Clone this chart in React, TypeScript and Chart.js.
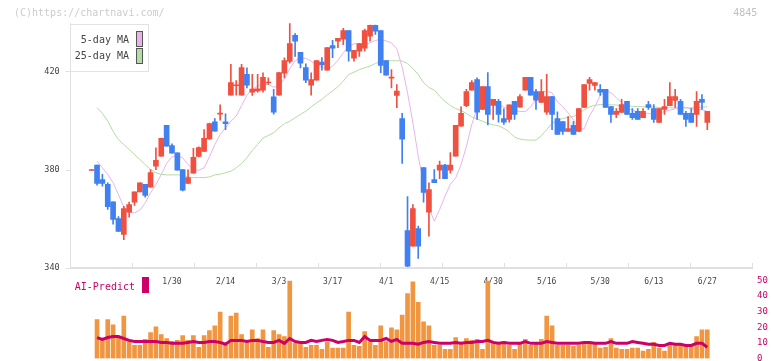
import React, { useEffect, useRef } from "react";
import { Chart, registerables } from "chart.js";
Chart.register(...registerables);

// ---- DATA (index 0..115 = trading days) ----
const opens = [379.8, 382.0, 376.1, 374.2, 367.0, 360.2, 353.7, 362.8, 366.9, 371.1, 374.2, 373.0, 381.6, 385.6, 398.2, 390.0, 387.0, 380.2, 374.5, 378.7, 385.5, 387.6, 392.7, 399.7, 402.8, 399.7, 410.5, 414.4, 410.5, 419.0, 411.8, 412.3, 412.6, 415.5, 409.9, 410.5, 419.5, 424.3, 435.0, 428.0, 421.8, 414.6, 416.7, 424.0, 420.7, 430.8, 432.6, 433.4, 436.9, 425.6, 428.5, 429.7, 434.6, 439.0, 436.9, 424.7, 417.5, 410.4, 401.0, 355.3, 348.9, 356.1, 381.0, 362.8, 376.1, 379.9, 382.0, 379.9, 385.6, 397.9, 406.3, 412.6, 416.9, 404.7, 414.1, 406.4, 408.0, 401.0, 400.6, 408.0, 405.6, 412.6, 417.8, 412.0, 407.6, 403.6, 410.0, 401.0, 399.8, 395.7, 398.2, 395.7, 405.5, 415.3, 414.5, 412.9, 412.9, 405.9, 402.7, 403.5, 408.0, 403.1, 403.9, 401.4, 406.7, 405.1, 399.4, 404.7, 406.3, 408.4, 408.0, 403.1, 403.1, 402.7, 408.8, 399.4];
const highs = [380.2, 382.0, 378.2, 374.8, 367.0, 361.0, 365.2, 366.9, 371.1, 374.8, 374.2, 380.2, 389.1, 393.0, 398.2, 390.7, 387.0, 380.2, 380.1, 388.8, 389.5, 396.5, 399.2, 401.0, 406.6, 402.9, 423.1, 416.5, 423.1, 421.7, 419.0, 419.0, 419.7, 417.6, 412.9, 419.8, 425.8, 439.8, 435.7, 428.0, 423.3, 419.7, 424.7, 425.9, 430.0, 432.9, 433.7, 437.8, 436.9, 428.8, 431.6, 437.5, 439.2, 439.2, 436.9, 424.7, 421.0, 414.9, 403.1, 369.2, 365.9, 357.1, 381.0, 374.8, 380.2, 383.6, 382.3, 387.1, 398.2, 405.8, 412.9, 416.5, 417.6, 414.1, 419.8, 408.8, 408.8, 405.0, 406.6, 408.0, 410.8, 417.8, 417.8, 412.9, 416.9, 419.0, 410.0, 403.7, 399.8, 401.8, 399.8, 405.1, 414.9, 417.8, 415.7, 414.9, 412.9, 405.9, 405.1, 408.8, 408.0, 405.1, 405.1, 405.1, 408.0, 406.7, 405.1, 408.8, 415.7, 412.9, 408.8, 403.9, 405.1, 412.0, 410.8, 403.9];
const lows = [379.8, 373.8, 373.4, 363.9, 357.9, 354.9, 351.6, 360.7, 365.5, 371.1, 368.9, 373.0, 380.1, 385.5, 389.7, 386.9, 379.9, 371.5, 374.5, 378.7, 385.3, 387.6, 392.5, 395.8, 400.3, 396.5, 410.5, 410.5, 410.5, 413.5, 410.4, 411.8, 411.8, 414.9, 402.8, 410.5, 417.6, 423.6, 426.4, 421.7, 415.6, 410.5, 416.7, 420.7, 420.7, 425.8, 429.9, 431.2, 424.4, 424.4, 426.4, 428.5, 432.6, 435.3, 419.7, 418.7, 413.5, 405.4, 382.7, 340.5, 348.9, 343.9, 366.9, 353.0, 374.8, 376.5, 376.5, 378.7, 385.6, 397.9, 405.8, 412.6, 400.6, 404.7, 398.4, 400.6, 399.5, 398.6, 399.5, 400.6, 405.6, 412.6, 410.5, 404.7, 407.6, 402.7, 396.5, 394.5, 394.5, 395.7, 394.5, 395.7, 405.5, 412.6, 412.6, 410.4, 405.5, 399.4, 401.4, 403.5, 402.7, 400.6, 400.6, 401.4, 404.7, 399.4, 399.4, 402.7, 406.3, 405.5, 402.7, 397.8, 399.4, 397.8, 404.7, 396.5];
const closes = [380.1, 374.5, 374.5, 365.0, 359.8, 354.9, 364.3, 365.9, 371.1, 374.8, 369.6, 378.9, 383.9, 392.9, 389.7, 386.9, 379.9, 371.8, 376.9, 385.2, 389.2, 392.9, 398.9, 395.8, 403.0, 398.9, 415.7, 414.6, 421.8, 414.6, 413.0, 413.1, 417.8, 415.7, 403.6, 419.8, 424.7, 431.6, 432.6, 423.6, 416.7, 416.9, 424.7, 422.9, 430.0, 429.7, 433.7, 436.9, 428.5, 428.8, 431.6, 436.9, 439.0, 436.7, 422.7, 418.7, 417.7, 412.2, 392.6, 340.7, 364.3, 348.9, 370.9, 372.0, 374.8, 382.0, 376.5, 382.0, 398.2, 403.1, 412.0, 415.7, 403.6, 414.1, 402.7, 408.8, 402.7, 399.5, 406.6, 402.7, 410.0, 417.8, 410.5, 408.5, 412.0, 410.0, 402.7, 394.5, 395.7, 396.9, 394.5, 405.1, 414.9, 416.9, 415.7, 411.8, 405.5, 402.7, 403.9, 406.7, 402.7, 401.4, 400.6, 403.9, 405.5, 400.6, 405.1, 405.9, 410.0, 410.0, 402.7, 400.6, 399.4, 408.0, 407.6, 403.9];

// moving averages as drawn (index 1..115; index 0 has none)
const ma5 = [null, 383.6, 380.9, 378.2, 374.8, 370.0, 364.8, 362.8, 362.5, 363.6, 366.6, 370.7, 374.1, 378.2, 382.7, 385.4, 385.9, 385.0, 382.2, 380.2, 379.9, 380.9, 385.4, 390.4, 394.5, 397.2, 399.9, 402.0, 406.3, 410.5, 412.9, 414.2, 414.9, 414.9, 413.8, 414.2, 417.2, 421.3, 424.6, 425.5, 425.6, 424.4, 422.8, 422.1, 421.0, 422.4, 424.8, 427.8, 430.5, 431.5, 431.5, 431.2, 431.9, 432.9, 433.3, 432.7, 431.9, 429.5, 422.0, 411.5, 399.3, 385.6, 374.8, 364.6, 359.1, 363.9, 369.3, 374.2, 376.8, 382.2, 389.7, 398.6, 405.0, 408.1, 408.8, 408.5, 407.1, 405.5, 405.0, 404.2, 403.9, 403.9, 405.8, 408.8, 411.8, 412.2, 411.5, 407.8, 405.8, 403.3, 400.5, 396.8, 396.8, 402.2, 405.8, 410.4, 412.6, 411.5, 409.6, 407.4, 405.4, 404.4, 403.6, 403.3, 403.1, 402.8, 403.1, 403.9, 404.4, 405.0, 405.8, 405.5, 405.0, 404.7, 404.6, 403.9];
const ma25 = [null, 405.5, 403.1, 399.9, 395.8, 392.4, 390.4, 388.4, 386.3, 384.3, 382.2, 380.2, 378.9, 378.2, 378.0, 378.0, 378.0, 377.9, 377.2, 376.9, 376.9, 376.9, 377.2, 378.0, 378.3, 378.9, 379.5, 380.9, 382.7, 385.0, 388.0, 390.4, 393.1, 394.1, 395.2, 397.2, 398.9, 399.9, 401.3, 402.7, 404.0, 405.8, 407.4, 408.8, 410.7, 412.3, 414.0, 416.3, 419.0, 419.9, 421.0, 421.7, 422.4, 423.5, 424.3, 424.6, 424.6, 424.6, 424.5, 423.5, 421.4, 419.0, 415.6, 413.7, 412.6, 410.1, 408.0, 406.3, 405.1, 404.2, 403.1, 401.7, 400.8, 399.9, 399.0, 398.5, 398.0, 397.0, 395.6, 393.4, 392.6, 392.3, 392.2, 392.2, 394.0, 396.5, 399.0, 400.3, 401.0, 401.5, 401.9, 403.0, 404.5, 405.8, 406.4, 406.7, 406.7, 406.6, 406.5, 406.3, 406.2, 406.0, 405.9, 405.8, 405.8, 405.7, 405.5, 405.4, 405.4, 405.3, 405.3, 405.3, 405.4, 405.5, 405.7, 405.8];

// volume-like bars and AI-Predict line (index 1..115)
const volumes = [null, 24.9, 11.6, 24.9, 21.6, 13.6, 27.2, 10.9, 8.4, 8.4, 12.2, 16.6, 20.3, 15.3, 12.8, 10.9, 11.6, 14.7, 11.6, 14.7, 7.2, 14.7, 17.8, 20.9, 29.7, 8.4, 27.2, 29.1, 15.3, 10.9, 18.4, 12.8, 18.4, 7.2, 17.8, 15.3, 14.1, 49.7, 9.7, 10.9, 7.2, 8.4, 8.4, 5.9, 10.3, 6.6, 6.6, 6.6, 29.7, 8.4, 7.8, 17.2, 10.3, 8.4, 20.9, 10.9, 19.7, 18.4, 27.8, 41.6, 49.1, 35.9, 23.4, 20.9, 8.4, 8.4, 5.9, 5.9, 13.4, 9.1, 12.8, 11.6, 12.2, 5.9, 49.7, 10.3, 10.3, 10.9, 8.4, 5.9, 9.1, 12.2, 8.4, 9.7, 12.2, 27.2, 20.9, 8.4, 8.4, 8.4, 7.8, 8.4, 9.1, 9.7, 9.7, 6.6, 7.2, 12.8, 6.6, 5.9, 5.9, 6.6, 6.6, 4.7, 5.9, 10.3, 6.6, 4.7, 9.7, 9.1, 9.1, 7.8, 8.4, 14.1, 18.4, 18.4];
const aiPredict = [null, 13.4, 12.2, 13.4, 14.1, 14.1, 12.8, 11.6, 10.9, 10.9, 10.9, 10.9, 10.9, 10.3, 10.3, 9.7, 9.7, 9.7, 10.3, 10.9, 10.3, 10.3, 10.9, 10.9, 10.3, 9.1, 11.6, 11.6, 11.6, 10.9, 11.6, 11.6, 10.9, 10.3, 10.3, 11.6, 9.7, 12.8, 10.9, 10.3, 10.3, 11.6, 10.9, 11.6, 12.2, 11.6, 10.3, 10.9, 11.6, 11.6, 10.3, 14.1, 11.6, 11.6, 11.6, 12.8, 10.9, 12.2, 9.7, 9.7, 9.7, 9.1, 10.3, 10.9, 10.3, 9.7, 9.7, 9.7, 10.3, 9.7, 10.3, 10.3, 10.9, 10.9, 11.6, 10.3, 9.7, 10.3, 9.7, 9.7, 9.7, 10.9, 9.7, 9.7, 9.7, 10.9, 10.3, 9.7, 9.7, 9.7, 9.7, 9.7, 10.3, 10.3, 9.7, 9.7, 9.7, 10.9, 9.7, 9.7, 9.7, 10.9, 10.3, 9.7, 9.1, 9.1, 8.4, 8.4, 9.7, 9.1, 9.1, 8.4, 8.4, 9.7, 9.7, 7.2];

const tickIndices = [15, 25, 35, 45, 55, 65, 75, 85, 95, 105, 115];
const tickLabels = ["1/30", "2/14", "3/3", "3/17", "4/1", "4/15", "4/30", "5/16", "5/30", "6/13", "6/27"];
const priceTicks = [340, 380, 420];
const volumeTicks = [0, 10, 20, 30, 40, 50];
const frameTickCount = 11;

const UP = "#f05040";
const DOWN = "#4080f0";
const MA5_COLOR = "#e8b4e8";
const MA25_COLOR = "#b4dca4";
const VOL_COLOR = "#f09640";
const AI_COLOR = "#cc0066";
const FONT = "'DejaVu Sans Mono', monospace";
const X_MIN = -3.92;
const X_MAX = 123.35;

export default function App() {
  const priceRef = useRef<HTMLCanvasElement>(null);
  const volRef = useRef<HTMLCanvasElement>(null);

  useEffect(() => {
    const idx = closes.map((_, i) => i);
    const colors = idx.map((i) => (closes[i] >= opens[i] ? UP : DOWN));
    const priceChart = new Chart(priceRef.current!, {
      type: "bar",
      data: {
        datasets: [
          {
            type: "line",
            xAxisID: "x",
            yAxisID: "y",
            data: idx.map((i) => ({ x: i, y: ma25[i] })),
            borderColor: MA25_COLOR,
            borderWidth: 1,
            pointRadius: 0,
            order: 4,
          } as any,
          {
            type: "line",
            xAxisID: "x",
            yAxisID: "y",
            data: idx.map((i) => ({ x: i, y: ma5[i] })),
            borderColor: MA5_COLOR,
            borderWidth: 1,
            pointRadius: 0,
            order: 3,
          } as any,
          {
            type: "bar",
            xAxisID: "x",
            yAxisID: "y",
            data: idx.map((i) => ({ x: i, y: [lows[i], highs[i]] })),
            backgroundColor: colors,
            barThickness: 1,
            grouped: false,
            borderWidth: 0,
            order: 2,
          } as any,
          {
            type: "bar",
            xAxisID: "x",
            yAxisID: "y",
            data: idx.map((i) => ({ x: i, y: [opens[i], closes[i]] })),
            backgroundColor: colors,
            barThickness: 5,
            grouped: false,
            borderWidth: 0,
            minBarLength: 1,
            order: 1,
          } as any,
        ],
      },
      options: {
        responsive: false,
        animation: false,
        devicePixelRatio: 1,
        layout: { padding: { top: 23, right: 20, left: 0, bottom: 0 } },
        plugins: { legend: { display: false }, tooltip: { enabled: false } },
        scales: {
          xt: {
            type: "linear",
            position: "bottom",
            weight: 0,
            offset: false,
            min: 0,
            max: frameTickCount,
            afterBuildTicks: (s: any) => {
              s.ticks = Array.from({ length: frameTickCount + 1 }, (_, k) => ({ value: k }));
            },
            afterFit: (s: any) => {
              s.height = 0;
            },
            ticks: { display: false },
            grid: { display: true, offset: false, drawOnChartArea: false, drawTicks: true, tickLength: -5, color: "#e0e0e0", lineWidth: 1 },
            border: { display: true, color: "#e0e0e0", width: 2 },
          },
          x: {
            type: "linear",
            position: "bottom",
            weight: 1,
            offset: false,
            min: X_MIN,
            max: X_MAX,
            afterBuildTicks: (s: any) => {
              s.ticks = tickIndices.map((v) => ({ value: v }));
            },
            afterFit: (s: any) => {
              s.height = 32;
            },
            grid: { display: false, drawTicks: false, offset: false },
            border: { display: false },
            ticks: {
              autoSkip: false,
              maxRotation: 0,
              padding: 9,
              color: "#444",
              font: { family: FONT, size: 8 },
              callback: (v: any) => {
                const k = tickIndices.indexOf(Number(v));
                return k >= 0 ? tickLabels[k] : "";
              },
            },
          },
          y: {
            type: "linear",
            position: "left",
            min: 340,
            max: 440,
            afterBuildTicks: (s: any) => {
              s.ticks = priceTicks.map((v) => ({ value: v }));
            },
            afterFit: (s: any) => {
              s.width = 70.7;
            },
            grid: { drawOnChartArea: false, drawTicks: true, tickLength: 5, color: "#e0e0e0" },
            border: { display: true, color: "#e0e0e0", width: 1 },
            ticks: { padding: 6, color: "#444", font: { family: FONT, size: 8.5 } },
          },
        },
      } as any,
    });

    const volChart = new Chart(volRef.current!, {
      type: "bar",
      data: {
        datasets: [
          {
            type: "line",
            xAxisID: "x",
            yAxisID: "yv",
            data: idx.map((i) => ({ x: i, y: aiPredict[i] })),
            borderColor: AI_COLOR,
            borderWidth: 3,
            pointRadius: 0,
            order: 1,
          } as any,
          {
            type: "bar",
            xAxisID: "x",
            yAxisID: "yv",
            data: idx.map((i) => ({ x: i, y: volumes[i] })),
            backgroundColor: VOL_COLOR,
            barThickness: 4,
            grouped: false,
            borderWidth: 0,
            order: 2,
          } as any,
        ],
      },
      options: {
        responsive: false,
        animation: false,
        devicePixelRatio: 1,
        layout: { padding: { top: 8.5, right: 0, left: 70.7, bottom: 12.5 } },
        plugins: { legend: { display: false }, tooltip: { enabled: false } },
        scales: {
          x: { type: "linear", display: false, offset: false, min: X_MIN, max: X_MAX, grid: { offset: false } },
          yv: {
            type: "linear",
            position: "right",
            min: 0,
            max: 50,
            afterBuildTicks: (s: any) => {
              s.ticks = volumeTicks.map((v) => ({ value: v }));
            },
            afterFit: (s: any) => {
              s.width = 20;
            },
            grid: { display: false, drawTicks: false },
            border: { display: false },
            ticks: { padding: 5, color: AI_COLOR, font: { family: FONT, size: 9 } },
          },
        },
      } as any,
    });

    return () => {
      priceChart.destroy();
      volChart.destroy();
    };
  }, []);

  const txt = (extra: React.CSSProperties): React.CSSProperties => ({
    position: "absolute",
    fontFamily: FONT,
    fontSize: 10,
    lineHeight: "12px",
    whiteSpace: "nowrap",
    ...extra,
  });

  return (
    <div style={{ position: "fixed", left: 0, top: 0, width: 772, height: 361, background: "#fff", overflow: "hidden" }}>
      <canvas ref={priceRef} width={772} height={300} style={{ position: "absolute", left: 0, top: 0 }} />
      <canvas ref={volRef} width={772} height={101} style={{ position: "absolute", left: 0, top: 270 }} />
      <div style={txt({ left: 14, top: 6.5, color: "#cccccc" })}>(C)https://chartnavi.com/</div>
      <div style={txt({ left: 700, width: 57.3, top: 6.5, color: "#c0c0c0", textAlign: "right" })}>4845</div>
      <div style={{ position: "absolute", left: 70, top: 24, width: 79, height: 48, border: "1px solid #e2e2e2", boxSizing: "border-box", background: "#fff" }} />
      <div style={txt({ left: 0, width: 129, top: 34, color: "#444", textAlign: "right" })}>5-day MA</div>
      <div style={txt({ left: 0, width: 129, top: 50, color: "#444", textAlign: "right" })}>25-day MA</div>
      <div style={{ position: "absolute", left: 136, top: 31, width: 7, height: 16, border: "1px solid #555", boxSizing: "border-box", background: MA5_COLOR }} />
      <div style={{ position: "absolute", left: 136, top: 48, width: 7, height: 16, border: "1px solid #555", boxSizing: "border-box", background: MA25_COLOR }} />
      <div style={txt({ left: 0, width: 135, top: 281, color: AI_COLOR, textAlign: "right" })}>AI-Predict</div>
      <div style={{ position: "absolute", left: 142, top: 277, width: 7, height: 16, background: AI_COLOR }} />
    </div>
  );
}
